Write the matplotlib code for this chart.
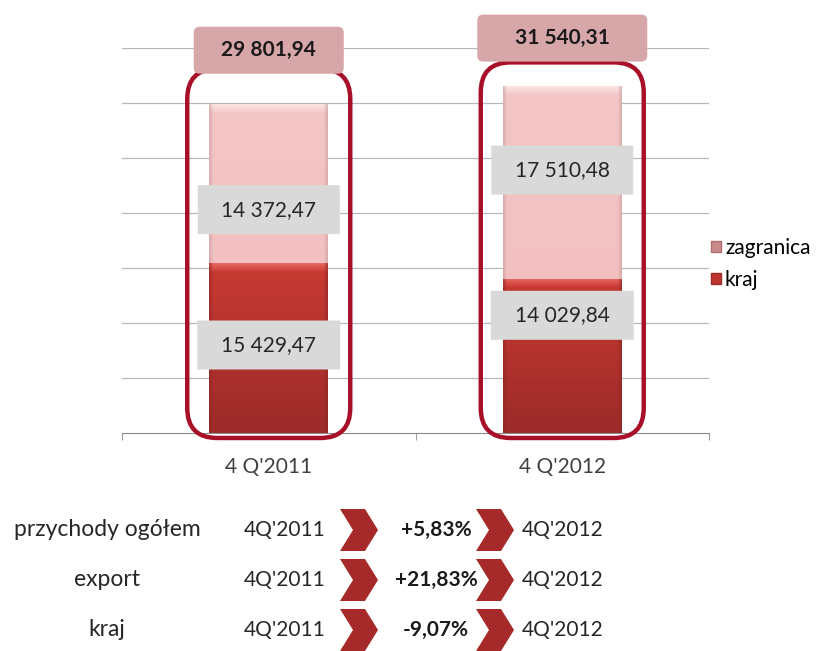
import numpy as np
import matplotlib
matplotlib.use("Agg")
import matplotlib.pyplot as plt
from matplotlib.patches import FancyBboxPatch, Polygon, Patch
from matplotlib.colors import to_rgb

plt.rcParams['font.family'] = ['Lato', 'DejaVu Sans']

# Dane: przychody (tys. zł)
kategorie = ["4 Q'2011", "4 Q'2012"]
kraj = [15429.47, 14029.84]
zagranica = [14372.47, 17510.48]
ogolem = [29801.94, 31540.31]

wiersze = ["przychody ogółem", "export", "kraj"]
zmiany = ["+5,83%", "+21,83%", "-9,07%"]
okres_od = "4Q'2011"
okres_do = "4Q'2012"


def fmt(v):
    s = f"{v:,.2f}"
    return s.replace(",", " ").replace(".", ",")


W, H = 822, 651
fig = plt.figure(figsize=(W / 100, H / 100), dpi=100)
ax_l, ax_r, ax_b, ax_t = 122, 709, 433, 48
ax = fig.add_axes([ax_l / W, 1 - ax_b / H, (ax_r - ax_l) / W, (ax_b - ax_t) / H])

ymax = 35000
ax.set_xlim(-0.5, 1.5)
ax.set_ylim(0, ymax)

# piksele na jednostkę danych
sx = (ax_r - ax_l) / 2.0
sy = (ax_b - ax_t) / ymax

x = np.arange(len(kategorie))
bw = 0.405

c_kraj = "#c0342e"
c_zagr = "#f3c3c3"
b1 = ax.bar(x, kraj, bw, color=c_kraj, zorder=2, label="kraj")
b2 = ax.bar(x, zagranica, bw, bottom=kraj, color=c_zagr, zorder=2, label="zagranica")


def shade(bar, top_col, bot_col, hi_col, side_col):
    x0, y0 = bar.get_x(), bar.get_y()
    w, h = bar.get_width(), bar.get_height()
    npx_h = max(int(h * sy), 2)
    npx_w = max(int(w * sx), 2)
    t = np.linspace(0, 1, npx_h)[:, None, None]
    top, bot = np.array(to_rgb(top_col)), np.array(to_rgb(bot_col))
    img = top * (1 - t) + bot * t
    img = np.repeat(img, npx_w, axis=1)
    hi = np.array(to_rgb(hi_col))
    rows = np.arange(npx_h)
    a = np.clip(1 - rows / 9.0, 0, 1)[:, None, None] * 0.85
    img = img * (1 - a) + hi * a
    side = np.array(to_rgb(side_col))
    cols = np.arange(npx_w)
    d = np.minimum(cols, npx_w - 1 - cols)
    s = np.clip(1 - d / 4.0, 0, 1)[None, :, None] * 0.6
    img = img * (1 - s) + side * s
    ax.imshow(img, extent=[x0, x0 + w, y0, y0 + h], aspect="auto",
              interpolation="bilinear", zorder=2.5)


for bar in b1:
    shade(bar, "#c93a33", "#9c2b29", "#ee6f66", "#8e2523")
for bar in b2:
    shade(bar, "#f4c6c6", "#f2c0c0", "#fde8e8", "#c9a0a0")

ax.set_xlim(-0.5, 1.5)
ax.set_ylim(0, ymax)

# siatka i oś
for v in np.arange(5000, ymax + 1, 5000):
    ax.axhline(v, color="#b8b8b8", lw=0.9, zorder=1)
for s in ["top", "right", "left"]:
    ax.spines[s].set_visible(False)
ax.spines["bottom"].set_color("#8c8c8c")
ax.set_yticks([])
ax.set_xticks(x)
ax.set_xticklabels(kategorie, fontsize=15, color="#404040")
ax.tick_params(axis="x", which="major", length=0, pad=17)
ax.set_xticks([-0.5, 0.5, 1.5], minor=True)
ax.tick_params(axis="x", which="minor", length=5, color="#8c8c8c")


def box(xc, yc, wpx, hpx, fc, ec="none", lw=0, r=3, z=3):
    w, h = wpx / sx, hpx / sy
    p = FancyBboxPatch((xc - w / 2, yc - h / 2), w, h,
                       boxstyle=f"round,pad=0,rounding_size={r / sx}",
                       mutation_aspect=sx / sy, fc=fc, ec=ec, lw=lw,
                       zorder=z, clip_on=False)
    ax.add_patch(p)


# czerwone obramowania słupków
top_pad = [3300, 2150]
for i in range(len(kategorie)):
    y_top = ogolem[i] + top_pad[i]
    y_bot = -5 / sy
    hpx = (y_top - y_bot) * sy
    box(x[i], (y_top + y_bot) / 2, 163, hpx, "none", ec="#a8102a", lw=3.2, r=30, z=4)

# etykiety sum
sum_y = [34800, 35900]
for i in range(len(kategorie)):
    box(x[i], sum_y[i], 150 if i == 0 else 170, 47, "#d6a6a8", r=6, z=5)
    ax.text(x[i], sum_y[i], fmt(ogolem[i]), ha="center", va="center",
            fontsize=15, fontweight="bold", color="#1a1a1a", zorder=6, clip_on=False)

# etykiety segmentów
zagr_y = [20300, 23900]
kraj_y = [8000, 10700]
for i in range(len(kategorie)):
    box(x[i], zagr_y[i], 142, 49, "#d9d9d9", r=0, z=5)
    ax.text(x[i], zagr_y[i], fmt(zagranica[i]), ha="center", va="center",
            fontsize=15, color="#262626", zorder=6)
    box(x[i], kraj_y[i], 143, 49, "#d9d9d9", r=0, z=5)
    ax.text(x[i], kraj_y[i], fmt(kraj[i]), ha="center", va="center",
            fontsize=15, color="#262626", zorder=6)

leg = ax.legend(handles=[Patch(fc="#c98a8c", ec="#b07070", label="zagranica"),
                         Patch(fc="#c0342e", ec="#9c2b29", label="kraj")],
                loc="center left", bbox_to_anchor=(701 / W, 1 - 264 / H),
                bbox_transform=fig.transFigure, frameon=False, fontsize=15,
                handlelength=0.45, handleheight=0.45, handletextpad=0.2,
                labelspacing=0.6, borderpad=0)

# tabela zmian
row_y = [530, 580, 630]
chev_x = [340, 476]


def fx(px):
    return px / W


def fy(py):
    return 1 - py / H


def chevron(x0, yc, w=38, h=42, d=13):
    pts = [(x0, yc - h / 2), (x0 + w - d, yc - h / 2), (x0 + w, yc),
           (x0 + w - d, yc + h / 2), (x0, yc + h / 2), (x0 + d, yc)]
    fig.add_artist(Polygon([(fx(a), fy(b)) for a, b in pts], closed=True,
                           transform=fig.transFigure, fc="#a62a2a", ec="none"))


for i, nazwa in enumerate(wiersze):
    yy = fy(row_y[i])
    fig.text(fx(107), yy, nazwa, ha="center", va="center", fontsize=16.5, color="#262626")
    fig.text(fx(285), yy, okres_od, ha="center", va="center", fontsize=15, color="#262626")
    fig.text(fx(436), yy, zmiany[i], ha="center", va="center", fontsize=15,
             fontweight="bold", color="#1a1a1a")
    fig.text(fx(563), yy, okres_do, ha="center", va="center", fontsize=15, color="#262626")
    for cx in chev_x:
        chevron(cx, row_y[i])

fig.savefig("out.png", dpi=100)
